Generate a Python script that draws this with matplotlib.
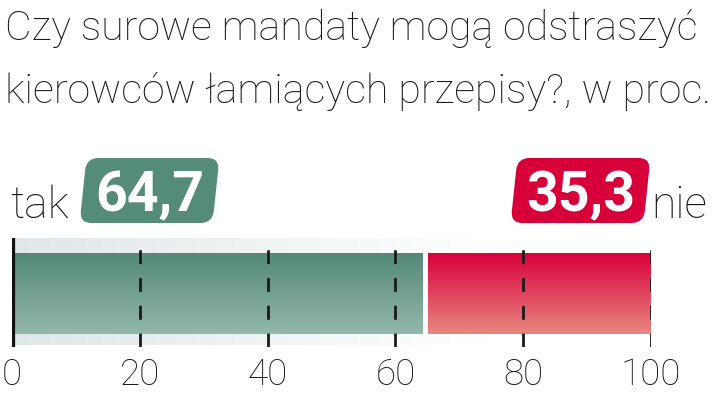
import numpy as np
import matplotlib
matplotlib.use("Agg")
import matplotlib.pyplot as plt
from matplotlib.patches import FancyBboxPatch
from matplotlib.transforms import Affine2D
from matplotlib.colors import LinearSegmentedColormap

# ---- data ----
title_lines = ["Czy surowe mandaty mogą odstraszyć",
               "kierowców łamiących przepisy?, w proc."]
categories = ["tak", "nie"]
values = [64.7, 35.3]
value_labels = ["64,7", "35,3"]
ticks = [0, 20, 40, 60, 80, 100]
tick_labels = ["0", "20", "40", "60", "80", "100"]

# ---- style ----
FONT = "Roboto"
green_top, green_bot = "#548878", "#93b8ad"
red_top, red_bot = "#d8003d", "#e8877f"
box_green, box_red = "#558b79", "#d7003b"

W, H = 720, 393
fig = plt.figure(figsize=(W / 100, H / 100), dpi=100)
fig.patch.set_facecolor("white")

def fy(py):
    return 1 - py / H

# title
fig.text(5 / W, fy(40), title_lines[0], fontsize=29.6, family=FONT,
         fontweight="light", color="#1a1a1a", va="baseline", ha="left")
fig.text(5 / W, fy(103), title_lines[1], fontsize=29.6, family=FONT,
         fontweight="light", color="#1a1a1a", va="baseline", ha="left")

# axes
ax = fig.add_axes([12 / W, fy(347), 639 / W, 109 / H])
ax.set_facecolor("none")
for s in ax.spines.values():
    s.set_visible(False)

band_y, band_h = 0.509, 0.982
bar_y, bar_h = 0.49, 0.743
gap = 0.45

# background band with horizontal gradient
band = ax.barh(band_y, 100, height=band_h, left=0, color="none", edgecolor="none")[0]
gx = np.linspace(0, 1, 256)
gval = np.clip(gx / 0.75, 0, 1)
band_cmap = LinearSegmentedColormap.from_list("band", [(0.88, 0.905, 0.915), (1, 1, 1)])
im = ax.imshow(gval[None, :], extent=[0, 100, band_y - band_h / 2, band_y + band_h / 2],
               aspect="auto", cmap=band_cmap, vmin=0, vmax=1, zorder=0.5)
im.set_clip_path(band)

# value bars
lefts = [0, values[0] + gap]
widths = [values[0] - gap, values[1] - gap]
grads = [(green_top, green_bot), (red_top, red_bot)]
for left, width, (ctop, cbot) in zip(lefts, widths, grads):
    b = ax.barh(bar_y, width, height=bar_h, left=left, color="none", edgecolor="none", zorder=1)[0]
    cmap = LinearSegmentedColormap.from_list("g", [cbot, ctop])
    gy = np.linspace(0, 1, 256)[:, None]
    im2 = ax.imshow(gy, extent=[left, left + width, bar_y - bar_h / 2, bar_y + bar_h / 2],
                    origin="lower", aspect="auto", cmap=cmap, zorder=1)
    im2.set_clip_path(b)

# dashed grid lines
for t in ticks[1:]:
    ax.axvline(t, ymin=0, ymax=1, color="#1a1a1a", lw=2, dashes=(5, 5), zorder=3)
# zero line
ax.axvline(0, ymin=0, ymax=1, color="#111111", lw=4.5, zorder=4, solid_capstyle="butt")

ax.set_xlim(0, 100)
ax.set_ylim(0, 1)
ax.set_yticks([])
ax.set_xticks(ticks)
ax.set_xticklabels(tick_labels, fontsize=26.5, family=FONT, fontweight="light", color="#1a1a1a")
ax.tick_params(axis="x", length=0, pad=7)

# category labels
fig.text(10 / W, fy(218), categories[0], fontsize=32, family=FONT, fontweight="light",
         color="#1a1a1a", va="baseline", ha="left")
fig.text(651 / W, fy(218), categories[1], fontsize=32, family=FONT, fontweight="light",
         color="#1a1a1a", va="baseline", ha="left")

# value boxes (in inches)
def value_box(x0, y0, w, h, color, label):
    cx, cy = x0 + w / 2, y0 + h / 2
    tr = Affine2D().translate(-cx, -cy).skew_deg(6, 0).translate(cx, cy) + fig.dpi_scale_trans
    p = FancyBboxPatch((x0, y0), w, h, boxstyle="round,pad=0,rounding_size=0.12",
                       fc=color, ec="none", transform=tr)
    fig.add_artist(p)
    fig.text(cx, y0 + 0.115, label, transform=fig.dpi_scale_trans, fontsize=40,
             family=FONT, fontweight="bold", color="white", ha="center", va="baseline")

value_box(0.83, (H - 223) / 100, 1.33, 0.65, box_green, value_labels[0])
value_box(5.14, (H - 223) / 100, 1.33, 0.65, box_red, value_labels[1])

fig.savefig("out.png", dpi=100)
